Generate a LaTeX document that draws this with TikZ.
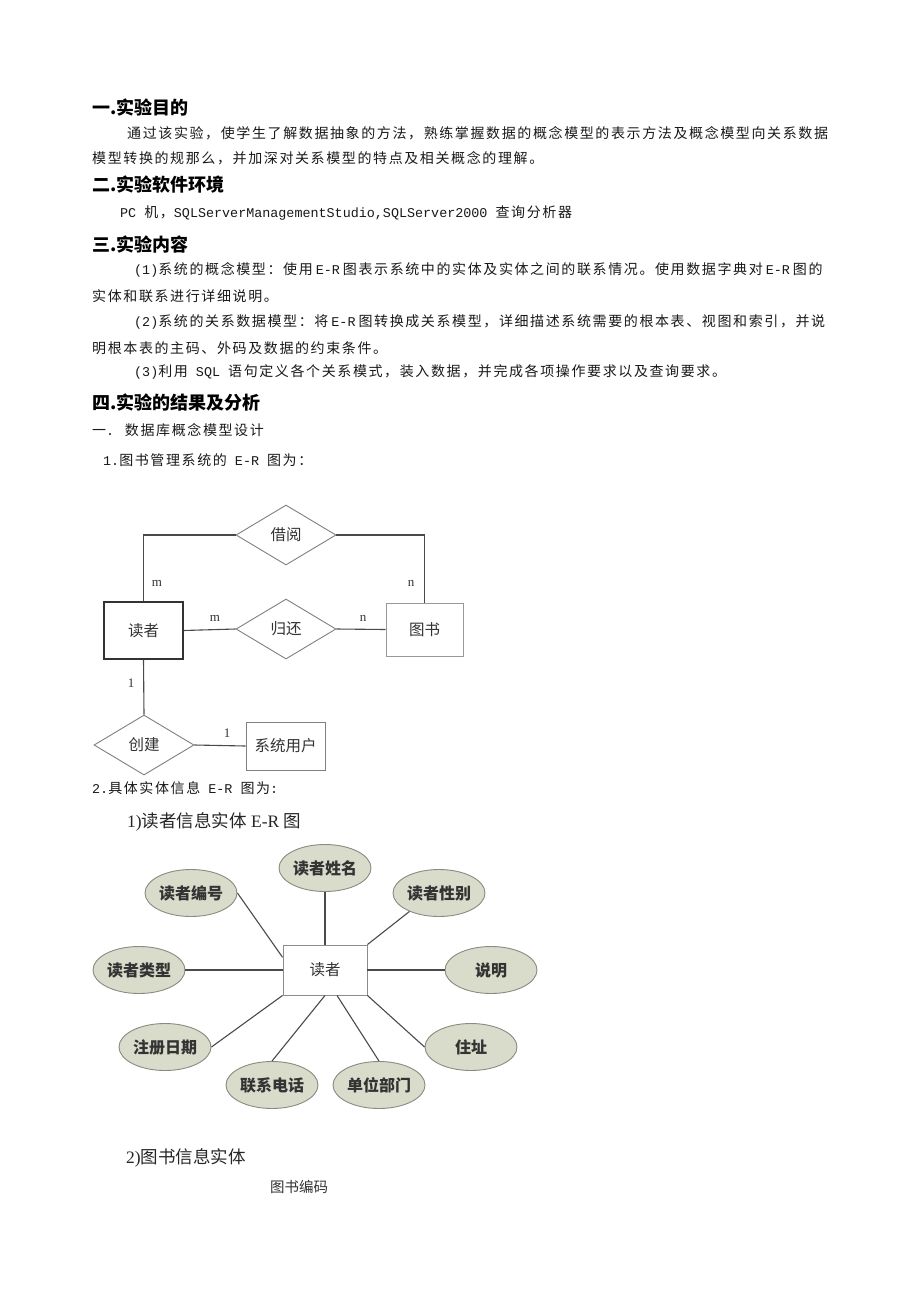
\documentclass[tikz,border=0pt]{standalone}
\usepackage{fontspec}
\usetikzlibrary{shapes.geometric,calc}
\setmainfont{Noto Sans CJK SC}
\newfontfamily\cjk[LetterSpace=11.5]{Noto Sans CJK SC}
\newfontfamily\cjkh{Noto Sans CJK SC}
\newfontfamily\monof{Liberation Mono}
\newfontfamily\serf{Liberation Serif}
\newcommand{\lt}[1]{{\monof\fontsize{13.4}{15}\selectfont #1}}
\newcommand{\er}{\hspace{3pt}\lt{E-R}\hspace{3pt}}
\definecolor{efill}{HTML}{D9DBCB}
\definecolor{eline}{HTML}{8A8A80}
\definecolor{dline}{HTML}{4A4A4A}
\definecolor{dtext}{HTML}{333333}
\tikzset{
  body/.style={anchor=west,inner sep=0pt,font=\cjk\fontsize{14}{16}\selectfont,text=black!90},
  head/.style={anchor=west,inner sep=0pt,font=\cjkh\bfseries\fontsize{18}{20}\selectfont,text=black},
  sub/.style={anchor=west,inner sep=0pt,font=\cjkh\fontsize{17.5}{20}\selectfont,text=black!85},
  entbox/.style={draw=gray,line width=0.9pt,rectangle,inner sep=0pt,font=\cjkh\fontsize{15.5}{17}\selectfont,text=dtext},
  relbox/.style={draw=gray,line width=0.9pt,diamond,inner sep=0pt,minimum width=100pt,minimum height=60pt,font=\cjkh\fontsize{15.5}{17}\selectfont,text=dtext},
  attr/.style={draw=eline,fill=efill,line width=0.9pt,ellipse,inner sep=0pt,minimum width=92pt,minimum height=47pt,font=\cjkh\bfseries\fontsize{16}{18}\selectfont,text=dtext},
  conn/.style={draw=dline,line width=1.1pt},
  card/.style={inner sep=0pt,font=\serf\fontsize{13}{14}\selectfont,text=dtext},
}
\begin{document}
\begin{tikzpicture}[x=1pt,y=-1pt]
\useasboundingbox[fill=white] (0,0) rectangle (920,1301);

% ---- text ----
\node[head] (h1) at (92,108) {一.实验目的};
\node[body] (p1) at (127,133) {通过该实验，使学生了解数据抽象的方法，熟练掌握数据的概念模型的表示方法及概念模型向关系数据};
\node[body] (p2) at (92,158) {模型转换的规那么，并加深对关系模型的特点及相关概念的理解。};
\node[head] (h2) at (92,185) {二.实验软件环境};
\node[body] (p3) at (120,213) {\lt{PC }机，\lt{SQLServerManagementStudio,SQLServer2000 }查询分析器};
\node[head] (h3) at (92,245) {三.实验内容};
\node[body] (p4) at (134,270) {\lt{(1)}系统的概念模型：使用\er 图表示系统中的实体及实体之间的联系情况。使用数据字典对\er 图的};
\node[body] (p5) at (92,296) {实体和联系进行详细说明。};
\node[body] (p6) at (134,322) {\lt{(2)}系统的关系数据模型：将\er 图转换成关系模型，详细描述系统需要的根本表、视图和索引，并说};
\node[body] (p7) at (92,348) {明根本表的主码、外码及数据的约束条件。};
\node[body] (p8) at (134,372) {\lt{(3)}利用\lt{ SQL }语句定义各个关系模式，装入数据，并完成各项操作要求以及查询要求。};
\node[head] (h4) at (92,403) {四.实验的结果及分析};
\node[body] (p9) at (92,430) {一\lt{. }数据库概念模型设计};
\node[body] (p10) at (103,460) {\lt{1.}图书管理系统的\lt{ E-R }图为：};

% ---- E-R diagram 1 ----
\node[relbox] (jy) at (286,535) {借阅};
\node[relbox] (gh) at (286,629) {归还};
\node[relbox] (cj) at (144,745) {创建};
\node[entbox,draw=black!80,line width=1.2pt,minimum width=79pt,minimum height=57pt] (dz) at (143.5,630.5) {读者};
\node[entbox,draw=gray!80,minimum width=77pt,minimum height=53pt] (ts) at (424.5,629.5) {图书};
\node[entbox,minimum width=79pt,minimum height=48pt] (yh) at (285.5,746) {系统用户};

\draw[conn] (jy.west) -| (dz.north);
\draw[conn] (jy.east) -| (ts.north);
\draw[conn] (dz.east) -- (gh.west);
\draw[conn] (gh.east) -- (ts.west);
\draw[conn] (dz.south) -- (cj.north);
\draw[conn] (cj.east) -- (yh.west);

\node[card] (m1) at (157,583) {m};
\node[card] (n1) at (411,583) {n};
\node[card] (m2) at (215,618) {m};
\node[card] (n2) at (363,618) {n};
\node[card] (o1) at (131,683) {1};
\node[card] (o2) at (227,733) {1};

\node[body] (p11) at (92,788) {\lt{2.}具体实体信息\lt{ E-R }图为\lt{:}};

% ---- E-R diagram 2 ----
\node[sub] (s1) at (127,822) {\serf 1)\cjkh 读者信息实体\serf\ E-R\ \cjkh 图};

\node[entbox,draw=gray!90,minimum width=84pt,minimum height=50pt] (r) at (325,970) {读者};
\node[attr] (a1) at (325,868) {读者姓名};
\node[attr] (a2) at (191,893) {读者编号};
\node[attr] (a3) at (439,893) {读者性别};
\node[attr] (a4) at (139,970) {读者类型};
\node[attr] (a5) at (491,970) {说明};
\node[attr] (a6) at (165,1047) {注册日期};
\node[attr] (a7) at (471,1047) {住址};
\node[attr] (a8) at (272,1085) {联系电话};
\node[attr] (a9) at (379,1085) {单位部门};

\draw[conn] (a1.south) -- (r.north);
\draw[conn] (a2.east) -- ($(r.north west)!0.25!(r.south west)$);
\draw[conn] (a3.212) -- (r.north east);
\draw[conn] (a4.east) -- (r.west);
\draw[conn] (a5.west) -- (r.east);
\draw[conn] (a6.east) -- (r.south west);
\draw[conn] (a8.north) -- (r.south);
\draw[conn] (a9.north) -- ([xshift=12pt]r.south);
\draw[conn] (a7.west) -- (r.south east);

\node[sub] (s2) at (126,1158) {\serf 2)\cjkh 图书信息实体};
\node[anchor=west,inner sep=0pt,font=\cjkh\fontsize{14.5}{16}\selectfont,text=dtext] (t1) at (270,1187) {图书编码};
\end{tikzpicture}
\end{document}
